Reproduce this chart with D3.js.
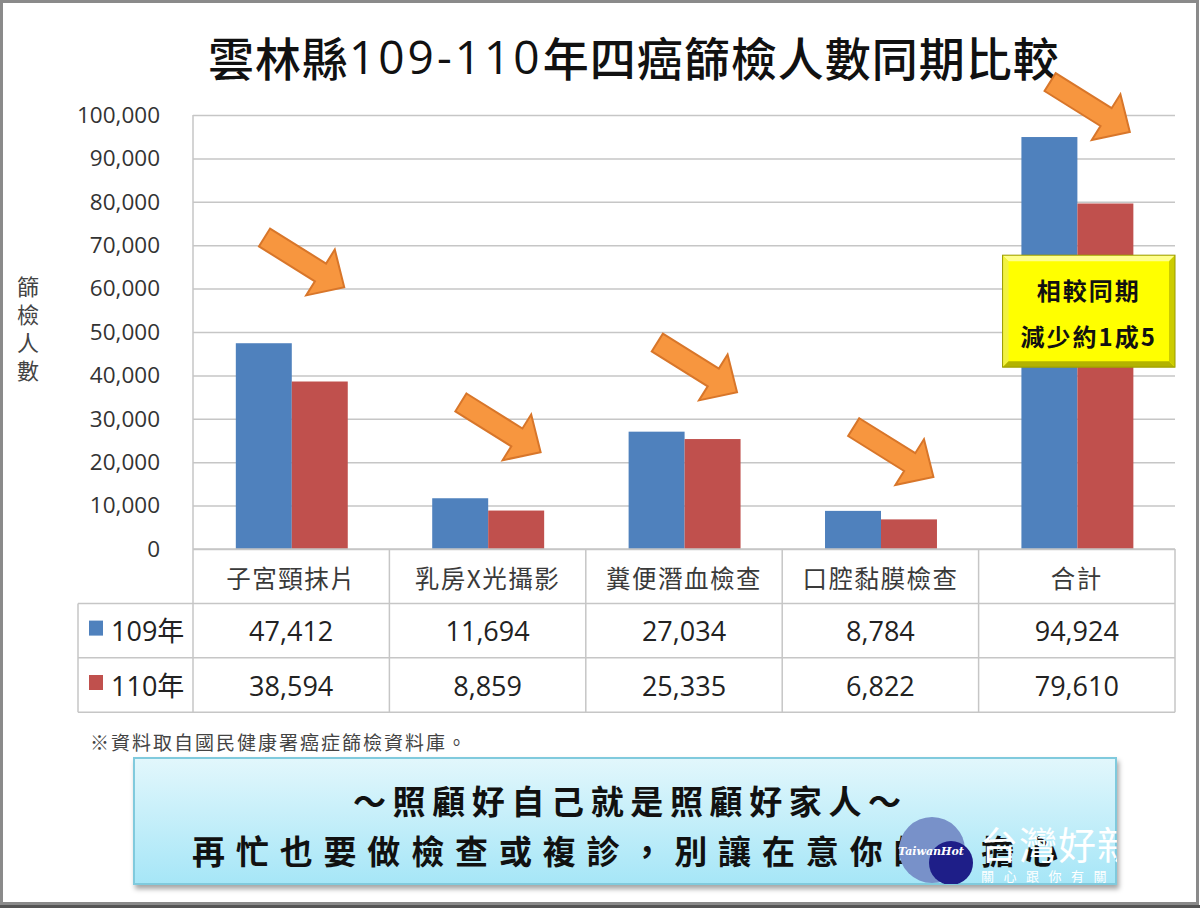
<!DOCTYPE html>
<html><head><meta charset="utf-8">
<script src="https://cdn.jsdelivr.net/npm/d3@7"></script>
<style>body{margin:0;background:#fff}svg{display:block}</style>
</head><body>
<script>
// ---- data ----
const categories = ["子宮頸抹片", "乳房X光攝影", "糞便潛血檢查", "口腔黏膜檢查", "合計"];
const seriesLabels = ["109年", "110年"];
const values109 = [47412, 11694, 27034, 8784, 94924];
const values110 = [38594, 8859, 25335, 6822, 79610];
const yTickValues = [0, 10000, 20000, 30000, 40000, 50000, 60000, 70000, 80000, 90000, 100000];
const arrowTipValues = [60300, 22300, 36100, 16600, 96100];
const calloutLines = ["相較同期", "減少約1成5"];
const calloutValueRange = [67700, 41900];
const titleParts = ["雲林縣", "109-110", "年四癌篩檢人數同期比較"];
const yAxisTitle = ["篩", "檢", "人", "數"];
const footnote = "※資料取自國民健康署癌症篩檢資料庫。";
const messageLines = ["～照顧好自己就是照顧好家人～", "再忙也要做檢查或複診，別讓在意你的人擔心"];
const colors = ["#4f81bd", "#c0504d"];

const W = 1200, H = 908;
const plot = {left: 193, right: 1175, top: 115, bottom: 549};
const tableLeft = 78, rowH = 54.4;
const CJK = "'Noto Sans CJK TC','Noto Sans CJK SC',sans-serif";
const NUM = "'Open Sans','Noto Sans CJK TC',sans-serif";

const svg = d3.select("body").append("svg").attr("width", W).attr("height", H);
const defs = svg.append("defs");

// frame
svg.append("rect").attr("x", 0).attr("y", 0).attr("width", W).attr("height", H).attr("fill", "#fff");
svg.append("rect").attr("x", 0).attr("y", 905).attr("width", W).attr("height", 3).attr("fill", "#555");

// scales
const y = d3.scaleLinear().domain([0, 100000]).range([plot.bottom, plot.top]);
const x0 = d3.scaleBand().domain(categories).range([plot.left, plot.right]);
const bw = x0.bandwidth();
const x1 = d3.scaleBand().domain(seriesLabels).range([bw * 0.218, bw * 0.788]);

// title
const title = svg.append("text").attr("x", 208).attr("y", 56)
  .attr("dominant-baseline", "central")
  .attr("font-family", CJK).attr("font-size", 46).attr("font-weight", 500).attr("fill", "#111");
title.append("tspan").attr("letter-spacing", 1).text(titleParts[0]);
title.append("tspan").attr("letter-spacing", 3).attr("font-family", NUM).text(titleParts[1]);
title.append("tspan").attr("letter-spacing", 1).text(titleParts[2]);

// gridlines
svg.append("g").attr("transform", `translate(${plot.left},0)`)
  .call(d3.axisLeft(y).tickValues(yTickValues).tickSize(-(plot.right - plot.left)).tickFormat(""))
  .call(g => g.select(".domain").remove())
  .call(g => g.selectAll("line").attr("stroke", "#c6c6c6").attr("stroke-width", 1.5));

// y axis labels
svg.append("g").attr("transform", `translate(${plot.left},0)`)
  .call(d3.axisLeft(y).tickValues(yTickValues).tickSize(0).tickPadding(33).tickFormat(d3.format(",")))
  .call(g => g.select(".domain").remove())
  .call(g => g.selectAll("text").attr("font-family", NUM).attr("font-size", 22.5).attr("fill", "#333"));

// y axis title
svg.append("g").selectAll("text").data(yAxisTitle).join("text")
  .attr("x", 28).attr("y", (d, i) => 285 + i * 28)
  .attr("text-anchor", "middle").attr("dominant-baseline", "central")
  .attr("font-family", CJK).attr("font-size", 22).attr("fill", "#444").text(d => d);

// bars
const data = categories.map((c, i) => ({cat: c, vals: [values109[i], values110[i]]}));
svg.append("g").selectAll("g").data(data).join("g")
  .attr("transform", d => `translate(${x0(d.cat)},0)`)
  .selectAll("rect").data(d => d.vals.map((v, j) => ({s: seriesLabels[j], v, j}))).join("rect")
  .attr("x", d => x1(d.s)).attr("width", x1.bandwidth())
  .attr("y", d => y(d.v)).attr("height", d => y(0) - y(d.v))
  .attr("fill", d => colors[d.j]);

// data table
const tableBottom = plot.bottom + rowH * 3;
const tg = svg.append("g").attr("stroke", "#c6c6c6").attr("stroke-width", 1.5);
tg.append("line").attr("x1", plot.left).attr("x2", plot.left).attr("y1", plot.top).attr("y2", tableBottom);
categories.forEach(c => {
  const xr = x0(c) + bw;
  tg.append("line").attr("x1", xr).attr("x2", xr).attr("y1", plot.bottom).attr("y2", tableBottom);
});
tg.append("line").attr("x1", tableLeft).attr("x2", tableLeft).attr("y1", plot.bottom + rowH).attr("y2", tableBottom);
tg.append("line").attr("x1", plot.left).attr("x2", plot.right).attr("y1", plot.bottom).attr("y2", plot.bottom);
[1, 2, 3].forEach(r => {
  tg.append("line").attr("x1", tableLeft).attr("x2", plot.right)
    .attr("y1", plot.bottom + rowH * r).attr("y2", plot.bottom + rowH * r);
});
svg.append("g").selectAll("text").data(categories).join("text")
  .attr("x", d => x0(d) + bw / 2).attr("y", plot.bottom + rowH / 2 + 1)
  .attr("text-anchor", "middle").attr("dominant-baseline", "central")
  .attr("font-family", CJK).attr("font-size", 24.5).attr("letter-spacing", 1.5).attr("fill", "#3a3a3a")
  .text(d => d);
[values109, values110].forEach((vals, r) => {
  const cy = plot.bottom + rowH * (r + 1) + rowH / 2;
  svg.append("g").selectAll("text").data(vals).join("text")
    .attr("x", (d, i) => x0(categories[i]) + bw / 2).attr("y", cy)
    .attr("text-anchor", "middle").attr("dominant-baseline", "central")
    .attr("font-family", NUM).attr("font-size", 27).attr("fill", "#222")
    .text(d => d3.format(",")(d));
  svg.append("rect").attr("x", 89).attr("y", cy - 10).attr("width", 14).attr("height", 15).attr("fill", colors[r]);
  svg.append("text").attr("x", 111).attr("y", cy).attr("dominant-baseline", "central")
    .attr("font-family", NUM).attr("font-size", 27).attr("fill", "#222").text(seriesLabels[r]);
});

// footnote
svg.append("text").attr("x", 90).attr("y", 741).attr("dominant-baseline", "central")
  .attr("font-family", CJK).attr("font-size", 19).attr("fill", "#444")
  .attr("textLength", 376).attr("lengthAdjust", "spacing").text(footnote);

// arrows (annotations anchored to bands & values)
const arrowPts = [[-94, -10.5], [-28, -10.5], [-28, -27], [0, 0], [-28, 27], [-28, 10.5], [-94, 10.5]];
svg.append("g").selectAll("polygon").data(arrowTipValues).join("polygon")
  .attr("points", arrowPts.map(p => p.join(",")).join(" "))
  .attr("transform", (v, i) => `translate(${x0(categories[i]) + bw * 0.77},${y(v)}) rotate(32)`)
  .attr("fill", "#f7963f").attr("stroke", "#d8762a").attr("stroke-width", 2).attr("stroke-linejoin", "miter");

// callout box
{
  const c = categories[categories.length - 1];
  const bx = x0(c) + bw * 0.122, bx2 = x0(c) + bw;
  const by = y(calloutValueRange[0]), by2 = y(calloutValueRange[1]);
  const w = bx2 - bx, h = by2 - by, b = 6;
  const g = svg.append("g");
  g.append("rect").attr("x", bx).attr("y", by).attr("width", w).attr("height", h).attr("fill", "#ffff00");
  const poly = (pts, fill) => g.append("polygon").attr("points", pts.map(p => p.join(",")).join(" ")).attr("fill", fill);
  poly([[bx, by], [bx + w, by], [bx + w - b, by + b], [bx + b, by + b]], "#ffff8c");
  poly([[bx, by], [bx + b, by + b], [bx + b, by + h - b], [bx, by + h]], "#f2f240");
  poly([[bx, by + h], [bx + b, by + h - b], [bx + w - b, by + h - b], [bx + w, by + h]], "#b3b300");
  poly([[bx + w, by], [bx + w, by + h], [bx + w - b, by + h - b], [bx + w - b, by + b]], "#cccc00");
  g.append("rect").attr("x", bx).attr("y", by).attr("width", w).attr("height", h)
    .attr("fill", "none").attr("stroke", "#9a9a00").attr("stroke-width", 1);
  g.selectAll("text").data(calloutLines).join("text")
    .attr("x", bx + w / 2).attr("y", (d, i) => by + h * 0.31 + i * 46)
    .attr("text-anchor", "middle").attr("dominant-baseline", "central")
    .attr("font-family", CJK).attr("font-size", 24).attr("font-weight", 700).attr("letter-spacing", 2)
    .attr("fill", "#111").text(d => d);
}

// message box
const grad = defs.append("linearGradient").attr("id", "msgGrad").attr("x1", 0).attr("y1", 0).attr("x2", 0).attr("y2", 1);
grad.append("stop").attr("offset", "0%").attr("stop-color", "#e2f7fc");
grad.append("stop").attr("offset", "100%").attr("stop-color", "#a6e6f7");
const sh = defs.append("filter").attr("id", "shadow").attr("x", "-5%").attr("y", "-10%").attr("width", "110%").attr("height", "130%");
sh.append("feDropShadow").attr("dx", 2).attr("dy", 4).attr("stdDeviation", 2.5).attr("flood-color", "#000").attr("flood-opacity", 0.35);
const box = {x: 134, y: 758, w: 982, h: 126};
svg.append("rect").attr("x", box.x).attr("y", box.y).attr("width", box.w).attr("height", box.h)
  .attr("fill", "url(#msgGrad)").attr("stroke", "#80cadd").attr("stroke-width", 2).attr("filter", "url(#shadow)");
svg.append("text").attr("x", 353).attr("y", 800).attr("dominant-baseline", "central")
  .attr("font-family", CJK).attr("font-size", 33).attr("font-weight", 700).attr("fill", "#111")
  .attr("textLength", 548).attr("lengthAdjust", "spacing").text(messageLines[0]);
svg.append("text").attr("x", 192).attr("y", 850).attr("dominant-baseline", "central")
  .attr("font-family", CJK).attr("font-size", 33).attr("font-weight", 700).attr("fill", "#111")
  .attr("textLength", 866).attr("lengthAdjust", "spacing").text(messageLines[1]);

// watermark (clipped to the message box)
defs.append("clipPath").attr("id", "wmClip").append("rect")
  .attr("x", box.x).attr("y", box.y).attr("width", box.w + 1).attr("height", box.h);
const wm = svg.append("g").attr("clip-path", "url(#wmClip)");
wm.append("circle").attr("cx", 932).attr("cy", 850).attr("r", 33).attr("fill", "#7891c9");
wm.append("circle").attr("cx", 951).attr("cy", 863).attr("r", 22).attr("fill", "#1e1e88");
wm.append("text").attr("x", 931).attr("y", 855).attr("text-anchor", "middle")
  .attr("font-family", "'DejaVu Serif',serif").attr("font-style", "italic").attr("font-weight", 700)
  .attr("font-size", 11).attr("fill", "#fff").text("TaiwanHot");
wm.append("text").attr("x", 980).attr("y", 842).attr("dominant-baseline", "central")
  .attr("font-family", CJK).attr("font-size", 38).attr("fill", "#fff").attr("letter-spacing", 1).text("台灣好新聞");
wm.append("text").attr("x", 981).attr("y", 875).attr("dominant-baseline", "central")
  .attr("font-family", CJK).attr("font-size", 13).attr("fill", "#fff").attr("letter-spacing", 9.5).text("關心跟你有關");

// outer frame
svg.append("rect").attr("x", 1.5).attr("y", 1.5).attr("width", W - 4).attr("height", 902)
  .attr("fill", "none").attr("stroke", "#8a8a8a").attr("stroke-width", 3);
</script>
</body></html>
